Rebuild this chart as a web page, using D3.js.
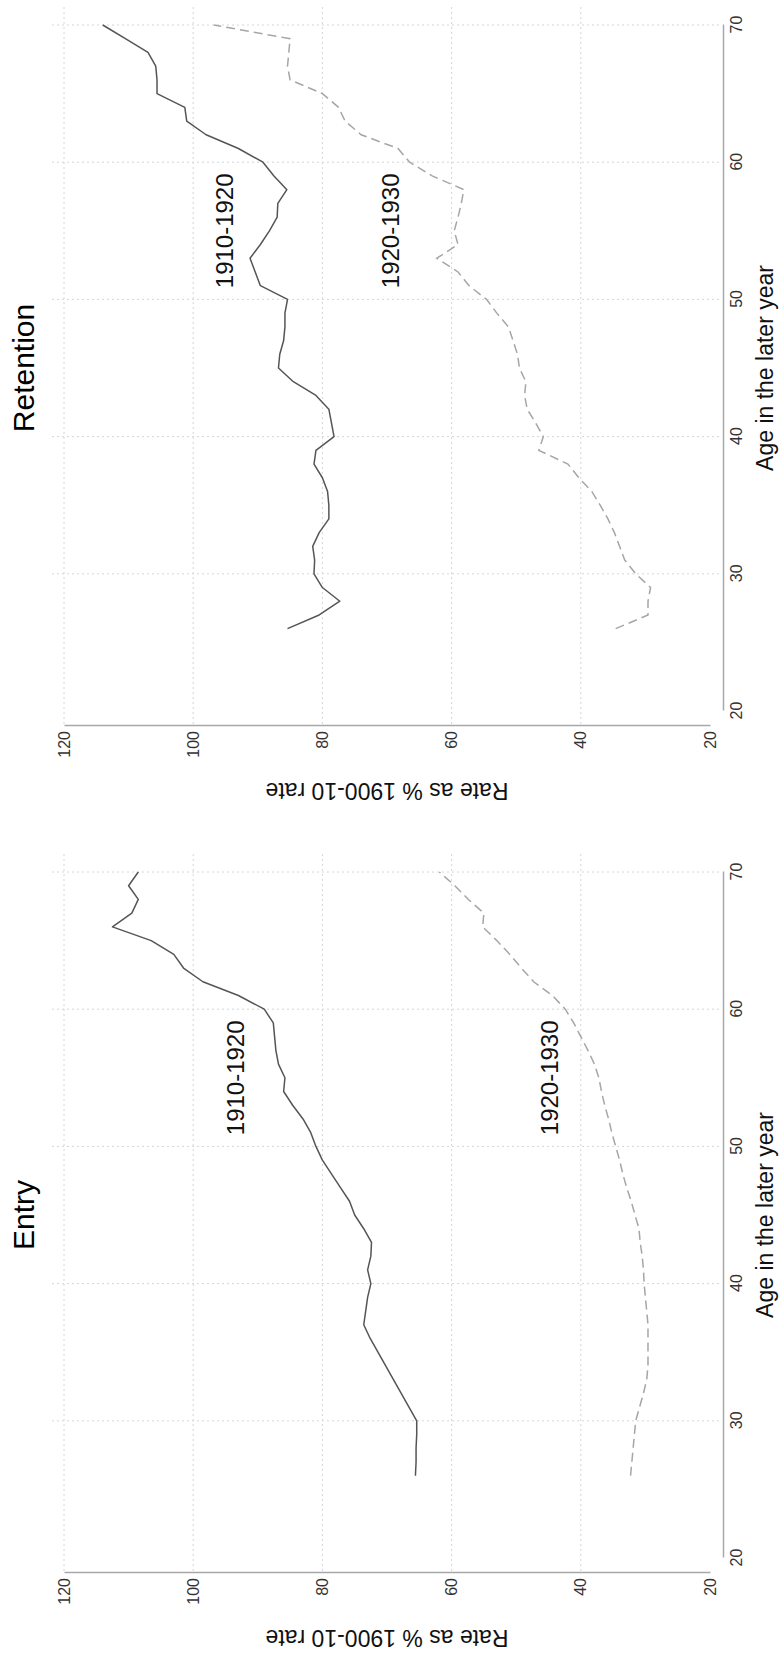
<!DOCTYPE html>
<html>
<head>
<meta charset="utf-8">
<script src="https://cdn.jsdelivr.net/npm/d3@7"></script>
<style>
  body { margin: 0; background: #fff; }
  text { font-family: "Liberation Sans", Arial, sans-serif; }
</style>
</head>
<body>
<svg id="chart"></svg>
<script>
// ages on the x axis (age in the later year)
const ages = [26, 27, 28, 29, 30, 31, 32, 33, 34, 35, 36, 37, 38, 39, 40,
              41, 42, 43, 44, 45, 46, 47, 48, 49, 50, 51, 52, 53, 54, 55,
              56, 57, 58, 59, 60, 61, 62, 63, 64, 65, 66, 67, 68, 69, 70];

// Entry panel
const entry1910 = [65.6, 65.5, 65.5, 65.4, 65.4, 66.6, 67.8, 69.0, 70.2, 71.4, 72.6, 73.6, 73.3, 73.0, 72.5,
                   73.0, 72.5, 72.4, 73.6, 75.0, 75.8, 77.2, 78.6, 80.0, 81.0, 81.8, 83.0, 84.6, 86.0, 85.8,
                   86.8, 87.2, 87.4, 87.6, 89.0, 93.0, 98.5, 101.5, 103.0, 106.5, 112.5, 109.5, 108.5, 110.0, 108.5];
const entry1920 = [32.3, 32.1, 31.9, 31.7, 31.5, 30.9, 30.3, 29.8, 29.6, 29.6, 29.6, 29.6, 29.8, 30.0, 30.2,
                   30.3, 30.5, 30.8, 31.0, 31.6, 32.2, 32.9, 33.5, 34.0, 34.6, 35.2, 35.7, 36.3, 36.8, 37.2,
                   37.9, 38.9, 40.0, 41.1, 42.4, 44.4, 47.3, 49.2, 51.0, 53.0, 55.2, 55.0, 57.4, 59.5, 61.9];

// Retention panel
const retention1910 = [85.4, 80.5, 77.3, 80.0, 81.3, 81.2, 81.5, 80.5, 79.0, 79.0, 79.2, 80.0, 81.3, 81.0, 78.2,
                       78.6, 79.0, 81.0, 84.5, 86.8, 86.6, 86.0, 85.8, 85.8, 85.4, 89.6, 90.4, 91.2, 89.6, 88.2,
                       87.0, 86.9, 85.5, 87.5, 89.2, 93.0, 98.0, 101.0, 101.3, 105.6, 105.6, 105.8, 107.0, 110.5, 114.0];
const retention1920 = [34.6, 29.6, 29.6, 29.2, 31.5, 33.2, 34.0, 34.8, 35.8, 37.0, 38.3, 40.3, 42.0, 46.5, 45.8,
                       47.0, 48.3, 48.7, 48.5, 49.5, 49.8, 50.5, 51.2, 53.0, 54.6, 57.3, 59.0, 62.3, 59.0, 59.6,
                       59.0, 58.5, 58.1, 63.0, 66.5, 68.3, 74.0, 76.5, 77.5, 80.0, 85.0, 85.4, 85.2, 85.0, 96.8];

const ageTicks = [20, 30, 40, 50, 60, 70];
const rateTicks = [20, 40, 60, 80, 100, 120];
const seriesNames = ["1910-1920", "1920-1930"];
const labelAge = 55;
const entryLabelRates = [93.4, 44.9];
const retentionLabelRates = [95.1, 69.5];

const pageW = 781, pageH = 1657;

const svg = d3.select("#chart")
    .attr("width", pageW)
    .attr("height", pageH);

svg.append("rect")
    .attr("width", pageW)
    .attr("height", pageH)
    .attr("fill", "#fff");

// the figure is laid out in landscape and then turned a quarter counter-clockwise
const root = svg.append("g")
    .attr("transform", `translate(0,${pageH}) rotate(-90)`);

function drawPanel(offsetX, title, solid, dashed, labelRates) {
    const g = root.append("g").attr("transform", `translate(${offsetX},0)`);

    const x = d3.scaleLinear().domain([20, 70]).range([99, 785]);
    const y = d3.scaleLinear().domain([20, 120]).range([710, 64]);

    const xAxisY = 723, yAxisX = 84;

    // grid lines
    const grid = g.append("g")
        .attr("stroke", "#d6d6d6")
        .attr("stroke-width", 1)
        .attr("stroke-dasharray", "2,3");

    grid.selectAll(".hgrid")
        .data(rateTicks.filter(d => d > 20))
        .join("line")
        .attr("class", "hgrid")
        .attr("x1", yAxisX + 2)
        .attr("x2", x(70) + 18)
        .attr("y1", d => y(d))
        .attr("y2", d => y(d));

    grid.selectAll(".vgrid")
        .data(ageTicks.filter(d => d > 20))
        .join("line")
        .attr("class", "vgrid")
        .attr("x1", d => x(d))
        .attr("x2", d => x(d))
        .attr("y1", y(120) - 12)
        .attr("y2", xAxisY - 2);

    const line = d3.line()
        .x((d, i) => x(ages[i]))
        .y(d => y(d));

    g.append("path")
        .datum(solid)
        .attr("d", line)
        .attr("fill", "none")
        .attr("stroke", "#555")
        .attr("stroke-width", 1.5)
        .attr("stroke-linejoin", "round");

    g.append("path")
        .datum(dashed)
        .attr("d", line)
        .attr("fill", "none")
        .attr("stroke", "#a6a6a6")
        .attr("stroke-width", 1.5)
        .attr("stroke-dasharray", "9,5");

    // series labels
    g.selectAll(".series-label")
        .data(seriesNames)
        .join("text")
        .attr("class", "series-label")
        .attr("x", x(labelAge))
        .attr("y", (d, i) => y(labelRates[i]))
        .attr("text-anchor", "middle")
        .attr("dominant-baseline", "central")
        .attr("font-size", 24)
        .attr("fill", "#111")
        .text(d => d);

    // axes
    const xAxis = g.append("g")
        .attr("transform", `translate(0,${xAxisY})`)
        .call(d3.axisBottom(x).tickValues(ageTicks).tickSize(0).tickPadding(8).tickSizeOuter(0));

    const yAxis = g.append("g")
        .attr("transform", `translate(${yAxisX},0)`)
        .call(d3.axisLeft(y).tickValues(rateTicks).tickSize(0).tickPadding(5).tickSizeOuter(0));

    [xAxis, yAxis].forEach(a => {
        a.select(".domain").attr("stroke", "#a8a8a8").attr("stroke-width", 1.5);
        a.selectAll("text")
            .attr("font-size", 16)
            .attr("font-family", "Liberation Sans, Arial, sans-serif")
            .attr("fill", "#333");
    });

    // axis titles
    g.append("text")
        .attr("x", (x(20) + x(70)) / 2)
        .attr("y", 773)
        .attr("text-anchor", "middle")
        .attr("font-size", 23)
        .attr("fill", "#111")
        .text("Age in the later year");

    g.append("text")
        .attr("transform", `translate(27,${(y(20) + y(120)) / 2}) rotate(-90)`)
        .attr("text-anchor", "middle")
        .attr("font-size", 23)
        .attr("fill", "#111")
        .text("Rate as % 1900-10 rate");

    g.append("text")
        .attr("x", (x(20) + x(70)) / 2)
        .attr("y", 34)
        .attr("text-anchor", "middle")
        .attr("font-size", 30)
        .attr("fill", "#000")
        .text(title);
}

drawPanel(0, "Entry", entry1910, entry1920, entryLabelRates);
drawPanel(847, "Retention", retention1910, retention1920, retentionLabelRates);
</script>
</body>
</html>
